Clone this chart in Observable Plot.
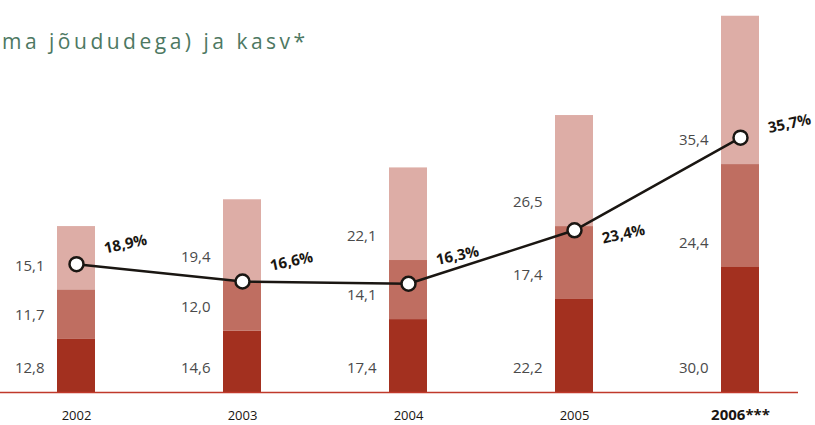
<!DOCTYPE html>
<html>
<head>
<meta charset="utf-8">
<script src="https://cdn.jsdelivr.net/npm/d3@7"></script>
<script src="https://cdn.jsdelivr.net/npm/@observablehq/plot@0.6"></script>
<style>
  html, body { margin: 0; padding: 0; background: #fff; }
  #wrap { position: relative; width: 815px; height: 425px; overflow: hidden; }
  #title { position: absolute; left: 2px; top: 27px; font-family: "Open Sans", sans-serif; font-size: 21px; letter-spacing: 3.5px; color: #4d7862; white-space: nowrap; z-index: 2; }
  #chart { position: absolute; left: 0; top: 0; }
  g[aria-label="year labels"] text, g[aria-label="year label bold"] text { letter-spacing: 1.6px; }
</style>
</head>
<body>
<div id="wrap">
  <div id="chart"></div>
  <div id="title">ma jõududega) ja kasv*</div>
</div>
<script>
const years = ["2002", "2003", "2004", "2005", "2006***"];
const darkValues = [12.8, 14.6, 17.4, 22.2, 30.0];
const midValues = [11.7, 12.0, 14.1, 17.4, 24.4];
const lightValues = [15.1, 19.4, 22.1, 26.5, 35.4];
const growth = [18.9, 16.6, 16.3, 23.4, 35.7];
const seriesNames = ["dark", "mid", "light"];
const seriesColors = ["#a3301f", "#bf6e61", "#ddada6"];

const fmt = v => v.toFixed(1).replace(".", ",");

const stacked = [];
[darkValues, midValues, lightValues].forEach((arr, s) => {
  arr.forEach((v, i) => stacked.push({year: years[i], series: seriesNames[s], value: v}));
});
// growth line uses its own vertical mapping inside the same chart area
const PX_PER_UNIT = 4.19;
const pctToY = p => (p * 7.53 - 14) / PX_PER_UNIT;
const STEP = 166.75;
const line = growth.map((g, i) => {
  const y = pctToY(g);
  let offPx; // label offset in pixels (positive = up), chosen to keep clear of the line
  if (i < growth.length - 1) {
    const risePx = (pctToY(growth[i + 1]) - y) * PX_PER_UNIT * 50 / STEP;
    offPx = risePx > 25 ? -4 : 20 + Math.max(0, risePx) * 0.5;
  } else {
    offPx = 14;
  }
  return {year: years[i], g, y, ly: y + offPx / PX_PER_UNIT};
});

const chart = Plot.plot({
  width: 815,
  height: 425,
  marginLeft: 0,
  marginRight: 17,
  marginTop: 0,
  marginBottom: 0,
  x: {domain: years, range: [0, 815], paddingInner: 0.772, paddingOuter: 0.33, axis: null},
  y: {domain: [0, 100], range: [392, -27], axis: null},
  color: {domain: seriesNames, range: seriesColors},
  style: {fontFamily: "'Open Sans', sans-serif", background: "#fff"},
  marks: [
    Plot.barY(stacked, {x: "year", y: "value", fill: "series", z: "series"}),
    Plot.ruleY([0], {stroke: "#c0392b", strokeWidth: 1.5}),
    Plot.text(stacked, Plot.stackY1({
      x: "year", y: "value", z: "series",
      text: d => fmt(d.value),
      textAnchor: "end", dx: -32, dy: -24,
      fontSize: 15, fontWeight: 400, fill: "#4a4a4a"
    })),
    Plot.line(line, {x: "year", y: "y", stroke: "#1a1612", strokeWidth: 2.5}),
    Plot.dot(line, {x: "year", y: "y", r: 7, fill: "#fff", stroke: "#1a1612", strokeWidth: 2.5}),
    Plot.text(line, {
      x: "year", y: "ly", text: d => fmt(d.g) + "%",
      textAnchor: "middle", dx: 49, rotate: -12,
      fontSize: 15, fontWeight: 700, fill: "#1a1612"
    }),
    Plot.text(years.slice(0, 4), {
      x: d => d, y: 0, text: d => d, dy: 23, ariaLabel: "year labels",
      fontSize: 13, fill: "#1a1612"
    }),
    Plot.text(years.slice(4), {
      x: d => d, y: 0, text: d => d, dy: 23, ariaLabel: "year label bold",
      fontSize: 15, fontWeight: 700, fill: "#1a1612"
    })
  ]
});
document.getElementById("chart").appendChild(chart);
</script>
</body>
</html>
